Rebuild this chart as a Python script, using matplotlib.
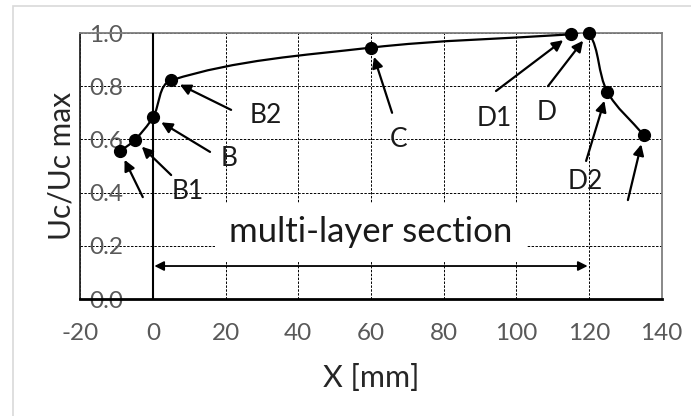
import numpy as np
import matplotlib
matplotlib.use("Agg")
import matplotlib.pyplot as plt
from matplotlib.path import Path
from matplotlib.patches import PathPatch, Rectangle

plt.rcParams['font.family'] = ['Lato', 'DejaVu Sans']

# ---- data ----
x_vals = [-9, -5, 0, 5, 60, 115, 120, 125, 135]
y_vals = [0.556, 0.598, 0.683, 0.822, 0.945, 0.995, 1.0, 0.78, 0.617]
labels = ["", "B1", "B", "B2", "C", "D1", "D", "D2", ""]
# arrow tail positions (data coords) and label positions
tail_x = [-2.8, 5.0, 15.7, 21.5, 65.8, 94.4, 108.7, 119.2, 130.7]
tail_y = [0.383, 0.466, 0.553, 0.711, 0.70, 0.782, 0.80, 0.519, 0.372]
lab_x = [None, 9.6, 21.0, 31.0, 67.7, 94.0, 108.3, 119.0, None]
lab_y = [None, 0.405, 0.53, 0.69, 0.598, 0.68, 0.703, 0.443, None]
x_ticks = [-20, 0, 20, 40, 60, 80, 100, 120, 140]
y_ticks = [0.0, 0.2, 0.4, 0.6, 0.8, 1.0]
section_start, section_end, section_y = 0, 120, 0.124

W, H = 691, 416
fig = plt.figure(figsize=(W / 100, H / 100), dpi=100)
ax = fig.add_axes([80.3 / W, 1 - 299 / H, (661.7 - 80.3) / W, (299 - 33) / H])
ax.set_xlim(-20, 140)
ax.set_ylim(0, 1.0)

# figure border
fig.patches.append(Rectangle((13 / W, -0.1), 1.2, 1 - 6 / H + 0.1, transform=fig.transFigure,
                             fill=False, edgecolor='#d9d9d9', linewidth=1.2))

ax.set_xticks(x_ticks)
ax.set_yticks(y_ticks)
ax.set_xticklabels([str(v) for v in x_ticks])
ax.set_yticklabels([f"{v:.1f}" for v in y_ticks])
ax.tick_params(axis='both', length=0, labelsize=17.5, labelcolor='#595959')
ax.tick_params(axis='y', pad=-31)
ax.tick_params(axis='x', pad=17)
for lab in ax.get_yticklabels():
    lab.set_zorder(10)
ax.grid(True, color='black', linestyle=(0, (2.5, 1.5)), linewidth=0.7)
ax.set_axisbelow(True)

for s in ['top', 'right']:
    ax.spines[s].set_color('#7f7f7f')
    ax.spines[s].set_linewidth(1.3)
ax.spines['left'].set_color('#262626')
ax.spines['left'].set_linewidth(1.3)
ax.spines['bottom'].set_color('black')
ax.spines['bottom'].set_linewidth(2)

ax.axvline(0, color='black', linewidth=1.5, zorder=3)

ax.set_xlabel("X [mm]", fontsize=22, color='#262626')
ax.xaxis.set_label_coords(0.5, -0.245)
fig.text(61 / W, 1 - 166 / H, "Uc/Uc max", fontsize=21.5, color='#262626',
         rotation=90, ha='center', va='center')

# smoothed curve (Bezier through data points, computed in display space)
fig.canvas.draw()
pts = ax.transData.transform(np.column_stack([x_vals, y_vals]))
n = len(pts)
verts = [pts[0]]
codes = [Path.MOVETO]
for i in range(n - 1):
    p0 = pts[i - 1] if i > 0 else pts[i]
    p1 = pts[i]
    p2 = pts[i + 1]
    p3 = pts[i + 2] if i + 2 < n else pts[i + 1]
    seg = np.linalg.norm(p2 - p1)
    d1 = p2 - p0
    d2 = p3 - p1
    t1 = d1 / (np.linalg.norm(d1) + 1e-9) * seg / 3
    t2 = d2 / (np.linalg.norm(d2) + 1e-9) * seg / 3
    verts += [p1 + t1, p2 - t2, p2]
    codes += [Path.CURVE4] * 3
verts = ax.transData.inverted().transform(np.array(verts))
ax.add_patch(PathPatch(Path(verts, codes), facecolor='none', edgecolor='black',
                       linewidth=1.6, zorder=4))
ax.plot(x_vals, y_vals, linestyle='none', marker='o', markersize=8.5,
        color='black', zorder=5, clip_on=False)

# annotation arrows
for xv, yv, tx, ty in zip(x_vals, y_vals, tail_x, tail_y):
    ax.annotate("", xy=(xv, yv), xytext=(tx, ty),
                arrowprops=dict(arrowstyle='-|>', color='black', lw=1.6,
                                mutation_scale=16, shrinkA=0, shrinkB=7),
                zorder=6)
for lab, lx, ly in zip(labels, lab_x, lab_y):
    if lab:
        ax.text(lx, ly, lab, fontsize=19, color='#1a1a1a', ha='center', va='center', zorder=7)

# multi-layer section
ax.annotate("", xy=(section_start, section_y), xytext=(section_end, section_y),
            arrowprops=dict(arrowstyle='<|-|>', color='black', lw=1.3,
                            mutation_scale=14, shrinkA=1, shrinkB=1), zorder=6)
ax.text((section_start + section_end) / 2, 0.25, "multi-layer section", fontsize=25,
        color='#1a1a1a', ha='center', va='center', zorder=7,
        bbox=dict(boxstyle='square,pad=0.4', facecolor='white', edgecolor='none'))

fig.savefig("out.png", dpi=100)
